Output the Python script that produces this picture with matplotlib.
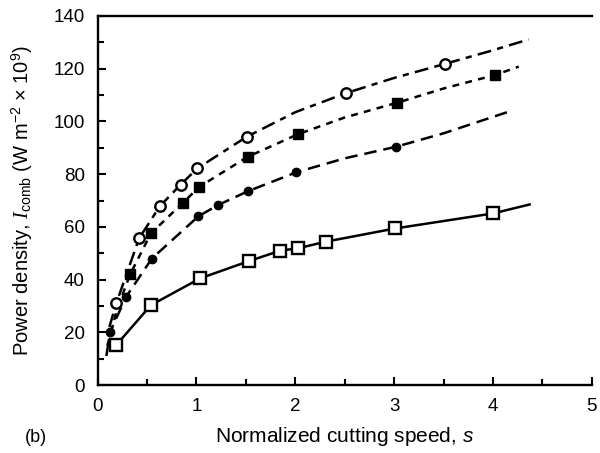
import matplotlib
matplotlib.use("Agg")
import matplotlib.pyplot as plt
from matplotlib.ticker import MultipleLocator

plt.rcParams['font.family'] = ['Liberation Sans', 'DejaVu Sans']
plt.rcParams['mathtext.fontset'] = 'custom'
plt.rcParams['mathtext.rm'] = 'Liberation Sans'
plt.rcParams['mathtext.it'] = 'Liberation Serif:italic'
plt.rcParams['mathtext.sf'] = 'Liberation Sans:italic'
plt.rcParams['lines.scale_dashes'] = False

# ---- data ----
# open circles
oc_s = [0.19, 0.42, 0.63, 0.84, 1.01, 1.51, 2.51, 3.51]
oc_v = [31, 55.6, 67.8, 76, 82.2, 94.2, 110.7, 121.8]
oc_curve_s = [0.12, 0.19, 0.42, 0.63, 0.84, 1.01, 1.51, 2.0, 2.51, 3.0, 3.51, 4.0, 4.36]
oc_curve_v = [22, 31, 55.6, 67.8, 76, 82.2, 94.2, 103.5, 110.7, 116.5, 121.8, 127, 131.1]

# filled squares
fs_s = [0.33, 0.54, 0.86, 1.03, 1.52, 2.03, 3.03, 4.02]
fs_v = [42, 57.5, 69, 75.2, 86.6, 95.2, 107.1, 117.6]
fs_curve_s = [0.1, 0.2, 0.33, 0.54, 0.86, 1.03, 1.52, 2.03, 2.5, 3.03, 3.5, 4.02, 4.26]
fs_curve_v = [15, 29, 42, 57.5, 69, 75.2, 86.6, 95.2, 101.5, 107.1, 112.5, 117.6, 120.8]

# filled circles
fc_s = [0.125, 0.29, 0.55, 1.02, 1.22, 1.52, 2.01, 3.02]
fc_v = [20, 33.5, 48, 64, 68.3, 73.5, 80.7, 90.4]
fc_curve_s = [0.09, 0.125, 0.29, 0.55, 1.02, 1.22, 1.52, 2.01, 2.5, 3.02, 3.5, 4.19]
fc_curve_v = [11, 20, 33.5, 48, 64, 68.3, 73.5, 80.7, 86, 90.4, 95.5, 104.1]

# open squares
os_s = [0.19, 0.54, 1.04, 1.53, 1.85, 2.03, 2.31, 3.01, 4.0]
os_v = [15.2, 30.3, 40.5, 47, 51, 51.9, 54.4, 59.4, 65.1]
os_curve_s = [0.19, 0.54, 1.04, 1.53, 1.85, 2.03, 2.31, 3.01, 4.0, 4.37]
os_curve_v = [15.2, 30.3, 40.5, 47, 51, 51.9, 54.4, 59.4, 65.1, 68.5]

x_ticks = [0, 1, 2, 3, 4, 5]
y_ticks = [0, 20, 40, 60, 80, 100, 120, 140]

fig = plt.figure(figsize=(6.0, 4.53), dpi=100)
ax = fig.add_axes([0.1625, 0.150, 0.824, 0.8147])

lw = 1.8
ax.plot(oc_curve_s, oc_curve_v, color='black', lw=lw, ls=(0, (10, 4.5, 4.5, 4.5)))
ax.plot(fs_curve_s, fs_curve_v, color='black', lw=lw, ls=(0, (5, 4.5)))
ax.plot(fc_curve_s, fc_curve_v, color='black', lw=lw, ls=(0, (9, 5)))
ax.plot(os_curve_s, os_curve_v, color='black', lw=lw, ls='-')

ax.plot(oc_s, oc_v, ls='none', marker='o', ms=7.5, mfc='white', mec='black', mew=1.7)
ax.plot(fs_s, fs_v, ls='none', marker='s', ms=7.5, mfc='black', mec='black')
ax.plot(fc_s, fc_v, ls='none', marker='o', ms=6.0, mfc='black', mec='black')
ax.plot(os_s, os_v, ls='none', marker='s', ms=8.0, mfc='white', mec='black', mew=1.7)

ax.set_xlim(0, 5)
ax.set_ylim(0, 140)
ax.set_xticks(x_ticks)
ax.set_yticks(y_ticks)
ax.xaxis.set_minor_locator(MultipleLocator(0.5))
ax.yaxis.set_minor_locator(MultipleLocator(10))
ax.tick_params(which='both', direction='in', width=1.5, labelsize=13.5)
ax.tick_params(which='major', length=6)
ax.tick_params(which='minor', length=4)
ax.tick_params(axis='y', which='major', pad=9)
ax.tick_params(axis='x', which='major', pad=9)
ax.spines['right'].set_visible(False)
for sp in ax.spines.values():
    sp.set_linewidth(1.7)

ax.set_xlabel('Normalized cutting speed, $\\mathsf{s}$', fontsize=15)
ax.xaxis.label.set_va('center')
ax.xaxis.set_label_coords(0.5, -(437 - 385) / 369.5)
ax.set_ylabel('Power density, $\\mathit{I}_{\\mathrm{comb}}$ (W m$^{-2}$ $\\times$ 10$^{9}$)',
              fontsize=14.5)
ax.yaxis.label.set_va('center')
ax.yaxis.set_label_coords(-(97.5 - 22) / 494.5, 0.5)
fig.text(36 / 600, 1 - 437 / 453, '(b)', fontsize=13, ha='center', va='center')

fig.savefig('out.png', dpi=100)
